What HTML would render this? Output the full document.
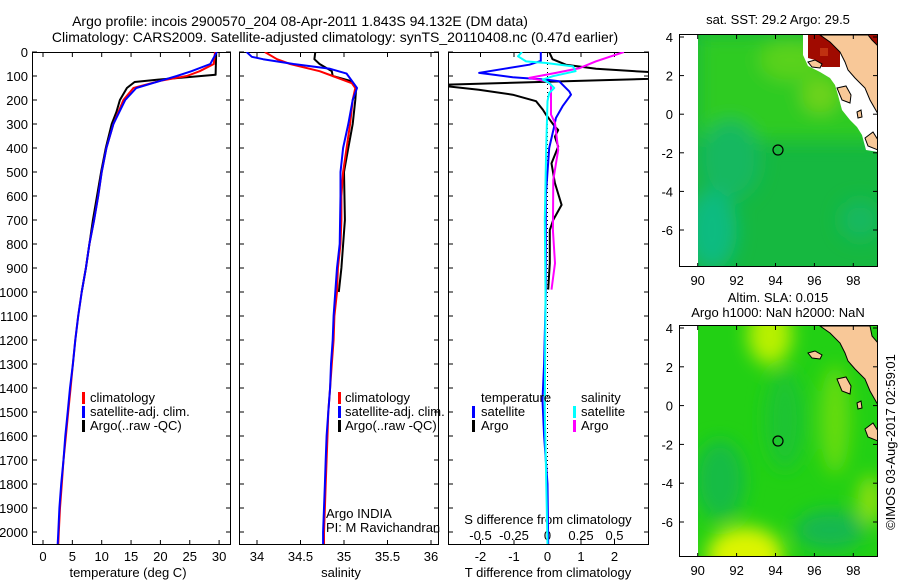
<!DOCTYPE html>
<html><head><meta charset="utf-8"><style>
html,body{margin:0;padding:0;background:#fff;}
svg{display:block;font-family:"Liberation Sans",sans-serif;}
</style></head><body>
<svg id="c" width="900" height="580" viewBox="0 0 900 580">
<defs>
<clipPath id="cp1"><rect x="32" y="52" width="199" height="493"/></clipPath>
<clipPath id="cp2"><rect x="239" y="52" width="200" height="493"/></clipPath>
<clipPath id="cp3"><rect x="448" y="52" width="201" height="493"/></clipPath>
<clipPath id="cm1"><rect x="698" y="35" width="180" height="232"/></clipPath>
<clipPath id="cm2"><rect x="698" y="326" width="180" height="231"/></clipPath>
<filter id="bl" x="-50%" y="-50%" width="200%" height="200%"><feGaussianBlur stdDeviation="9"/></filter>
</defs>
<g font-size="14" text-anchor="middle" fill="#000">
<text x="300" y="26">Argo profile: incois 2900570_204 08-Apr-2011 1.843S 94.132E (DM data)</text>
<text x="335" y="42">Climatology: CARS2009. Satellite-adjusted climatology: synTS_20110408.nc (0.47d earlier)</text>
</g>
<g id="panels"></g>
<!-- Map 1 -->
<g>
<text x="778" y="24" font-size="13" text-anchor="middle">sat. SST: 29.2 Argo: 29.5</text>
<g clip-path="url(#cm1)">
<rect x="698" y="35" width="180" height="232" fill="#16b840"/>
<g filter="url(#bl)">
<rect x="698" y="35" width="180" height="105" fill="#2ecb22"/>
<ellipse cx="790" cy="60" rx="30" ry="20" fill="#5ad21c"/>
<ellipse cx="820" cy="95" rx="18" ry="18" fill="#6ed31a"/>
<ellipse cx="730" cy="160" rx="30" ry="40" fill="#14b860"/>
<ellipse cx="712" cy="230" rx="25" ry="40" fill="#0fbb80"/>
<ellipse cx="860" cy="220" rx="20" ry="20" fill="#14b860"/>
</g>
<polygon points="803,35 803,55 808,66 820,72 830,78 835,85 838,95 842,110 850,120 857,127 862,135 866,150 878,152 878,35" fill="#fff"/>
<polygon points="808,35 840,35 840,67 822,67 815,60 808,58" fill="#a00a00"/>
<rect x="820" y="48" width="8" height="8" fill="#c03010"/>
<polygon points="869,35 878,35 878,50 870,46" fill="#a00a00"/>
<polygon points="820,35 830,42 840,52 845,62 848,70 855,78 865,88 870,100 878,114 878,46 872,40 868,35" fill="#f8c898" stroke="#000" stroke-width="1"/>
<polygon points="808,62 815,60 822,64 820,68 812,67" fill="#f8c898" stroke="#000" stroke-width="1"/>
<polygon points="837,88 846,86 851,95 850,103 842,100" fill="#f8c898" stroke="#000" stroke-width="1"/>
<polygon points="865,138 873,132 878,140 878,150 868,146" fill="#f8c898" stroke="#000" stroke-width="1"/>
<polygon points="857,112 861,110 862,117 858,118" fill="#f8c898" stroke="#000" stroke-width="1"/>
</g>
<circle cx="778" cy="150" r="5" fill="none" stroke="#000" stroke-width="1.2"/>
<rect x="679.5" y="34.5" width="198" height="232" fill="none" stroke="#000"/>
</g>
<!-- Map 2 -->
<g>
<text x="778" y="302" font-size="13" text-anchor="middle">Altim. SLA: 0.015</text>
<text x="778" y="317" font-size="13" text-anchor="middle">Argo h1000: NaN h2000: NaN</text>
<g clip-path="url(#cm2)">
<rect x="698" y="326" width="180" height="231" fill="#22d014"/>
<g filter="url(#bl)">
<ellipse cx="770" cy="335" rx="22" ry="30" fill="#b8f000"/>
<ellipse cx="835" cy="420" rx="15" ry="55" fill="#66dc10"/>
<ellipse cx="745" cy="555" rx="38" ry="28" fill="#dcf400"/>
<ellipse cx="870" cy="500" rx="12" ry="25" fill="#90e010"/>
<ellipse cx="720" cy="480" rx="25" ry="40" fill="#18bc44"/>
<ellipse cx="830" cy="530" rx="35" ry="20" fill="#14b850"/>
<ellipse cx="785" cy="420" rx="20" ry="50" fill="#1cc430"/>
</g>
<polygon points="820,326 830,333 840,343 845,353 848,361 855,369 865,379 870,391 878,405 878,343 872,336 870,326" fill="#f8c898" stroke="#000" stroke-width="1"/>
<polygon points="808,353 815,351 822,355 820,359 812,358" fill="#f8c898" stroke="#000" stroke-width="1"/>
<polygon points="837,379 846,377 851,386 850,394 842,391" fill="#f8c898" stroke="#000" stroke-width="1"/>
<polygon points="865,429 873,423 878,431 878,441 868,437" fill="#f8c898" stroke="#000" stroke-width="1"/>
<polygon points="857,403 861,401 862,408 858,409" fill="#f8c898" stroke="#000" stroke-width="1"/>
</g>
<circle cx="778" cy="441" r="5" fill="none" stroke="#000" stroke-width="1.2"/>
<rect x="679.5" y="325.5" width="198" height="231" fill="none" stroke="#000"/>
</g>
<g id="maxes"></g>
<text transform="translate(895,442) rotate(-90)" font-size="13" text-anchor="middle">©IMOS 03-Aug-2017 02:59:01</text>
</svg>
<script>
// ---- data ----
const depthTicks = [0,100,200,300,400,500,600,700,800,900,1000,1100,1200,1300,1400,1500,1600,1700,1800,1900,2000];
const tempTicks = [0,5,10,15,20,25,30];
const salTicks = [34,34.5,35,35.5,36];
const salTickLabels = ["34","34.5","35","35.5","36"];
const tdTicks = [-2,-1,0,1,2];
const sdTicks = [-0.5,-0.25,0,0.25,0.5];
const sdTickLabels = ["-0.5","-0.25","0","0.25","0.5"];

const climDepth = [0,50,80,100,120,150,200,300,400,500,600,700,800,900,1000,1100,1200,1300,1400,1500,1600,1700,1800,1900,2000,2050];
const tempClim = [29.3,29.1,26.7,24.5,20,15.4,13.7,12.0,10.8,10.0,9.4,8.7,7.9,7.3,6.6,6.0,5.5,5.1,4.7,4.3,3.9,3.5,3.2,2.9,2.7,2.6];
const tempSat = [29.6,28.5,25.3,22.8,20,15.9,14.0,12.0,10.8,10.0,9.4,8.7,7.9,7.3,6.6,6.0,5.5,5.1,4.6,4.2,3.8,3.5,3.1,2.8,2.6,2.5];
const argoTDepth = [0,95,105,115,125,150,200,250,300,400,500,600,700,800,900,1000];
const tempArgo = [29.5,29.4,24.5,19.6,15.6,14.3,13.1,12.5,11.7,10.7,9.9,9.2,8.5,7.9,7.3,6.6];

const salClimDepth = [0,30,50,80,100,130,150,200,300,400,500,600,700,800,900,1000,1100,1200,1300,1400,1500,1600,1700,1800,1900,2000,2050];
const salClim = [34.09,34.23,34.38,34.72,34.87,35.09,35.13,35.10,35.07,35.03,34.99,34.97,34.97,34.96,34.93,34.92,34.89,34.88,34.86,34.84,34.82,34.81,34.80,34.79,34.78,34.77,34.77];
const salSatDepth = [0,20,30,50,70,90,130,150,200,300,400,500,600,800,900,1000,1100,1200,1300,1400,1500,1600,1700,1800,1900,2000,2050];
const salSat = [33.88,33.94,34.07,34.42,34.84,35.03,35.11,35.15,35.10,35.05,34.99,34.96,34.96,34.95,34.92,34.90,34.88,34.87,34.85,34.84,34.82,34.80,34.79,34.78,34.77,34.76,34.76];
const salArgoDepth = [0,30,50,80,100,120,150,200,300,400,500,700,900,1000];
const salArgo = [34.67,34.66,34.72,34.86,34.87,35.07,35.14,35.13,35.10,35.05,35.00,35.01,34.97,34.94];

const tdSatDepth = [0,37,53,70,87,95,105,115,122,164,178,226,275,310,400,600,1000,1300,1450,1600,1800,2050];
const tdSat = [-0.2,-0.2,-0.54,-1.3,-2.04,-1.6,-1.04,-0.05,0.35,0.65,0.7,0.45,0.25,0.2,0.05,-0.05,-0.05,-0.1,-0.15,-0.1,0,0.02];
const tdArgoDepth = [0,30,53,70,84,95,105,112,124,136,140,143,157,178,205,240,260,311,325,353,394,464,546,637,700,742,880,990];
const tdArgo = [0.05,0.15,0.55,1.45,3.1,3.5,3.3,3.0,0,-3.0,-3.3,-3.0,-2.05,-1.04,-0.34,-0.14,-0.05,0.22,0.32,0.22,0.32,0.12,0.22,0.42,0.17,0.07,0.07,0.02];
const sdSatDepth = [0,18,39,46,60,80,101,115,129,150,171,205,400,700,1000,1500,2050];
const sdSat = [-0.19,-0.22,-0.16,-0.01,0.19,0.21,0.04,-0.036,0.013,0.05,0.013,0,-0.01,-0.02,-0.015,-0.02,0];
const sdArgoDepth = [0,39,67,87,108,122,136,261,296,408,533,742,880,990];
const sdArgo = [0.57,0.36,0.24,0.063,-0.136,-0.01,0.026,0.026,0.056,0.08,0.043,0.04,0.056,0.03];

const mapLonTicks = [90,92,94,96,98];
const mapLatTicks = [4,2,0,-2,-4,-6];

// ---- drawing ----
const NS = "http://www.w3.org/2000/svg";
const root = document.getElementById('panels');
function mk(tag, attrs, parent) {
  const e = document.createElementNS(NS, tag);
  for (const k in attrs) e.setAttribute(k, attrs[k]);
  (parent || root).appendChild(e);
  return e;
}
const Y0 = 52, YB = 545;
const yD = d => Y0 + d * 0.24;
const xT = t => 43 + t * 5.87;
const xS = s => 257 + (s - 34) * 87;
const xTD = v => 547.5 + v * 33.5;
const xSD = v => 547.5 + v * 134;

function panelFrame(x0, x1, name) {
  const g = mk('g', {});
  
  
  mk('rect', {x: x0 + 0.5, y: Y0 + 0.5, width: x1 - x0 - 1, height: YB - Y0 - 1, fill: 'none', stroke: '#000'}, g);
  depthTicks.forEach(d => {
    const y = yD(d);
    mk('line', {x1: x0, x2: x0 + 5, y1: y, y2: y, stroke: '#000'}, g);
    mk('line', {x1: x1 - 5, x2: x1, y1: y, y2: y, stroke: '#000'}, g);
  });
  return g;
}
function series(depths, vals, xf, color, clip, name, w) {
  const p = depths.map((d, i) => xf(vals[i]).toFixed(1) + ',' + yD(d).toFixed(1)).join(' ');
  const e = mk('polyline', {points: p, fill: 'none', stroke: color, 'stroke-width': w || 2, 'stroke-linejoin': 'round', 'clip-path': 'url(#' + clip + ')'});
  
  
}
function txt(x, y, s, anchor, name, size) {
  const e = mk('text', {x: x, y: y, 'font-size': size || 13, 'text-anchor': anchor || 'middle'});
  e.textContent = s;
  
  
  return e;
}
function legBar(x, y, color, name) {
  const e = mk('rect', {x: x, y: y - 10, width: 3, height: 12, fill: color});
  
  
}

// Panel 1: temperature
const g1 = panelFrame(32, 231, 'temperature-panel');
depthTicks.forEach(d => txt(28, yD(d) + 5, String(d), 'end', 'depth-tick-label'));
tempTicks.forEach(t => {
  mk('line', {x1: xT(t), x2: xT(t), y1: Y0, y2: Y0 + 5, stroke: '#000'}, g1);
  mk('line', {x1: xT(t), x2: xT(t), y1: YB - 5, y2: YB, stroke: '#000'}, g1);
  txt(xT(t), 561, String(t), 'middle', 'temperature-tick-label');
});
txt(128, 577, 'temperature (deg C)', 'middle', 'temperature-axis-title');
series(argoTDepth, tempArgo, xT, '#000', 'cp1', 'temp-argo-line');
series(climDepth, tempClim, xT, '#f00', 'cp1', 'temp-climatology-line');
series(climDepth, tempSat, xT, '#00f', 'cp1', 'temp-satellite-line');
legBar(82, 402, '#f00', 'legend-climatology-swatch'); txt(90, 402, 'climatology', 'start', 'legend-climatology');
legBar(82, 416, '#00f', 'legend-satellite-swatch'); txt(90, 416, 'satellite-adj. clim.', 'start', 'legend-satellite');
legBar(82, 430, '#000', 'legend-argo-swatch'); txt(90, 430, 'Argo(..raw -QC)', 'start', 'legend-argo');

// Panel 2: salinity
const g2 = panelFrame(239, 439, 'salinity-panel');
salTicks.forEach((s, i) => {
  mk('line', {x1: xS(s), x2: xS(s), y1: Y0, y2: Y0 + 5, stroke: '#000'}, g2);
  mk('line', {x1: xS(s), x2: xS(s), y1: YB - 5, y2: YB, stroke: '#000'}, g2);
  txt(xS(s), 561, salTickLabels[i], 'middle', 'salinity-tick-label');
});
txt(341, 577, 'salinity', 'middle', 'salinity-axis-title');
series(salArgoDepth, salArgo, xS, '#000', 'cp2', 'sal-argo-line');
series(salClimDepth, salClim, xS, '#f00', 'cp2', 'sal-climatology-line');
series(salSatDepth, salSat, xS, '#00f', 'cp2', 'sal-satellite-line');
legBar(338, 402, '#f00', 'legend-climatology-swatch'); txt(345, 402, 'climatology', 'start', 'legend-climatology');
legBar(338, 416, '#00f', 'legend-satellite-swatch'); txt(345, 416, 'satellite-adj. clim.', 'start', 'legend-satellite');
legBar(338, 430, '#000', 'legend-argo-swatch'); txt(345, 430, 'Argo(..raw -QC)', 'start', 'legend-argo');
txt(326, 518, 'Argo INDIA', 'start', 'argo-program-label');
txt(326, 532, 'PI: M Ravichandran', 'start', 'pi-label');

// Panel 3: differences
const g3 = panelFrame(448, 649, 'difference-panel');
mk('line', {x1: 547.5, x2: 547.5, y1: Y0, y2: YB, stroke: '#000', 'stroke-dasharray': '1,3'}, g3);
tdTicks.forEach(v => {
  mk('line', {x1: xTD(v), x2: xTD(v), y1: Y0, y2: Y0 + 5, stroke: '#000'}, g3);
  mk('line', {x1: xTD(v), x2: xTD(v), y1: YB - 5, y2: YB, stroke: '#000'}, g3);
  txt(xTD(v), 561, String(v), 'middle', 't-diff-tick-label');
});
sdTicks.forEach((v, i) => {
  mk('line', {x1: xSD(v), x2: xSD(v), y1: YB - 4, y2: YB, stroke: '#000'}, g3);
  txt(xSD(v), 540, sdTickLabels[i], 'middle', 's-diff-tick-label');
});
txt(548, 524, 'S difference from climatology', 'middle', 's-diff-axis-title');
txt(548, 577, 'T difference from climatology', 'middle', 't-diff-axis-title');
series(tdArgoDepth, tdArgo, xTD, '#000', 'cp3', 't-diff-argo-line');
series(tdSatDepth, tdSat, xTD, '#00f', 'cp3', 't-diff-satellite-line');
series(sdArgoDepth, sdArgo, xSD, '#f0f', 'cp3', 's-diff-argo-line');
series(sdSatDepth, sdSat, xSD, '#0ff', 'cp3', 's-diff-satellite-line');
txt(481, 402, 'temperature', 'start', 'legend-temperature-heading');
txt(581, 402, 'salinity', 'start', 'legend-salinity-heading');
legBar(472, 416, '#00f', 'legend-t-satellite-swatch'); txt(481, 416, 'satellite', 'start', 'legend-t-satellite');
legBar(472, 430, '#000', 'legend-t-argo-swatch'); txt(481, 430, 'Argo', 'start', 'legend-t-argo');
legBar(573, 416, '#0ff', 'legend-s-satellite-swatch'); txt(581, 416, 'satellite', 'start', 'legend-s-satellite');
legBar(573, 430, '#f0f', 'legend-s-argo-swatch'); txt(581, 430, 'Argo', 'start', 'legend-s-argo');

// Map axes
const ma = document.getElementById('maxes');
const xLon = l => 697.7 + (l - 90) * 19.45;
[[35, 267, 37, 19.3], [326, 557, 328, 19.4]].forEach(([top, bot, y4, sc]) => {
  const yLat = la => y4 + (4 - la) * sc;
  mapLonTicks.forEach(l => {
    mk('line', {x1: xLon(l), x2: xLon(l), y1: top, y2: top + 4, stroke: '#000'}, ma);
    mk('line', {x1: xLon(l), x2: xLon(l), y1: bot - 4, y2: bot, stroke: '#000'}, ma);
    const t = mk('text', {x: xLon(l), y: bot + 18, 'font-size': 13, 'text-anchor': 'middle'}, ma);
    t.textContent = String(l);
    
    
  });
  mapLatTicks.forEach(la => {
    mk('line', {x1: 679.5, x2: 684, y1: yLat(la), y2: yLat(la), stroke: '#000'}, ma);
    mk('line', {x1: 873, x2: 877.5, y1: yLat(la), y2: yLat(la), stroke: '#000'}, ma);
    const t = mk('text', {x: 673, y: yLat(la) + 5, 'font-size': 13, 'text-anchor': 'end'}, ma);
    t.textContent = String(la);
    
    
  });
});
</script>
</body></html>
